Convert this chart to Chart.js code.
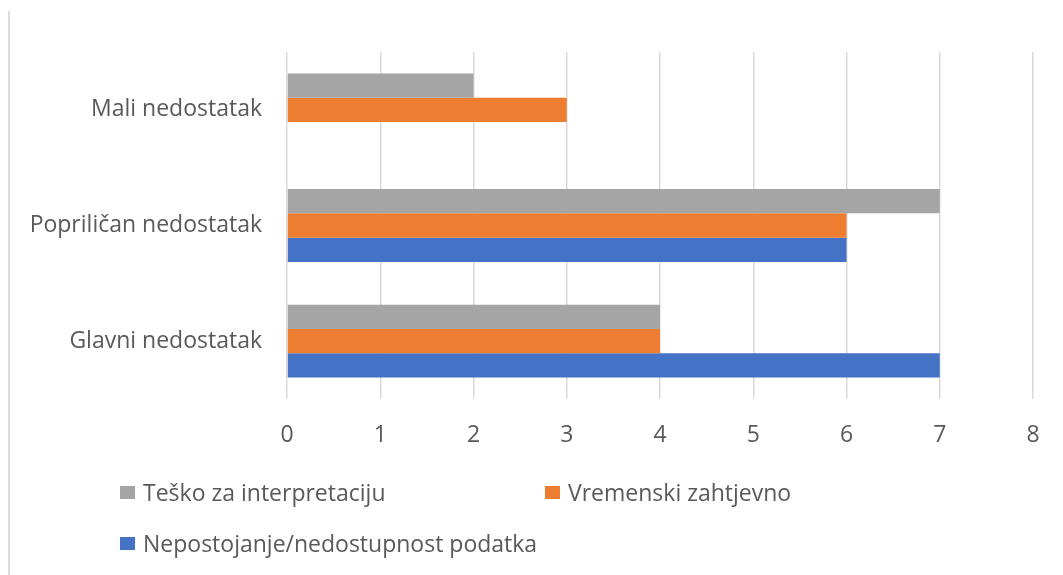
<!DOCTYPE html>
<html>
<head>
<meta charset="utf-8">
<script src="https://cdn.jsdelivr.net/npm/chart.js@4.4.1/dist/chart.umd.min.js"></script>
<style>
    html, body { margin: 0; padding: 0; background: #fff; }
    #wrap { position: relative; width: 1063px; height: 575px; overflow: hidden; }
    #edge { position: absolute; left: 8px; top: 11px; bottom: 0; border-left: 2px solid #d9d9d9; }
    .legend-item { position: absolute; display: flex; align-items: center; font-family: 'Open Sans', sans-serif; font-size: 23px; color: #595959; white-space: nowrap; }
    .legend-item span.box { display: inline-block; width: 15px; height: 13px; margin-right: 8px; }
</style>
</head>
<body>
<div id="wrap">
    <div id="edge"></div>
    <canvas id="chart" width="1063" height="575"></canvas>
    <div id="legend"></div>
</div>
<script>
const categories = ['Mali nedostatak', 'Popriličan nedostatak', 'Glavni nedostatak'];
const seriesNames = ['Teško za interpretaciju', 'Vremenski zahtjevno', 'Nepostojanje/nedostupnost podatka'];
const teskoValues = [2, 7, 4];
const vremenskiValues = [3, 6, 4];
const nepostojanjeValues = [0, 6, 7];
const SERIES_COLORS = ['#A5A5A5', '#ED7D31', '#4472C4'];
const TEXT_COLOR = '#595959';
const FONT = 'Open Sans';

// legend placed like the original (two columns, wrapped)
const legendSpots = [[120, 476], [545, 476], [120, 527]];
const legend = document.getElementById('legend');
seriesNames.forEach((name, i) => {
    const item = document.createElement('div');
    item.className = 'legend-item';
    item.style.left = legendSpots[i][0] + 'px';
    item.style.top = legendSpots[i][1] + 'px';
    item.innerHTML = `<span class="box" style="background:${SERIES_COLORS[i]}"></span>${name}`;
    legend.appendChild(item);
});

const ctx = document.getElementById('chart').getContext('2d');
new Chart(ctx, {
    type: 'bar',
    data: {
        labels: categories,
        datasets: [
            { label: seriesNames[0], data: teskoValues, backgroundColor: SERIES_COLORS[0] },
            { label: seriesNames[1], data: vremenskiValues, backgroundColor: SERIES_COLORS[1] },
            { label: seriesNames[2], data: nepostojanjeValues, backgroundColor: SERIES_COLORS[2] },
        ],
    },
    options: {
        indexAxis: 'y',
        responsive: false,
        animation: false,
        categoryPercentage: 0.63,
        barPercentage: 1.0,
        layout: { padding: { left: 0, top: 52, right: 30, bottom: 116 } },
        plugins: {
            legend: { display: false },
            tooltip: { enabled: false },
        },
        scales: {
            x: {
                min: 0,
                max: 8,
                ticks: { stepSize: 1, padding: 23, color: TEXT_COLOR, font: { family: FONT, size: 23 } },
                grid: { color: '#d9d9d9', lineWidth: 1.5, drawTicks: false },
                border: { display: false },
                afterFit: (scale) => { scale.height = 60; },
            },
            y: {
                ticks: { padding: 17, color: TEXT_COLOR, font: { family: FONT, size: 23 } },
                grid: { display: false },
                border: { display: false },
                afterFit: (scale) => { scale.width = 287; },
            },
        },
    },
});
</script>
</body>
</html>
